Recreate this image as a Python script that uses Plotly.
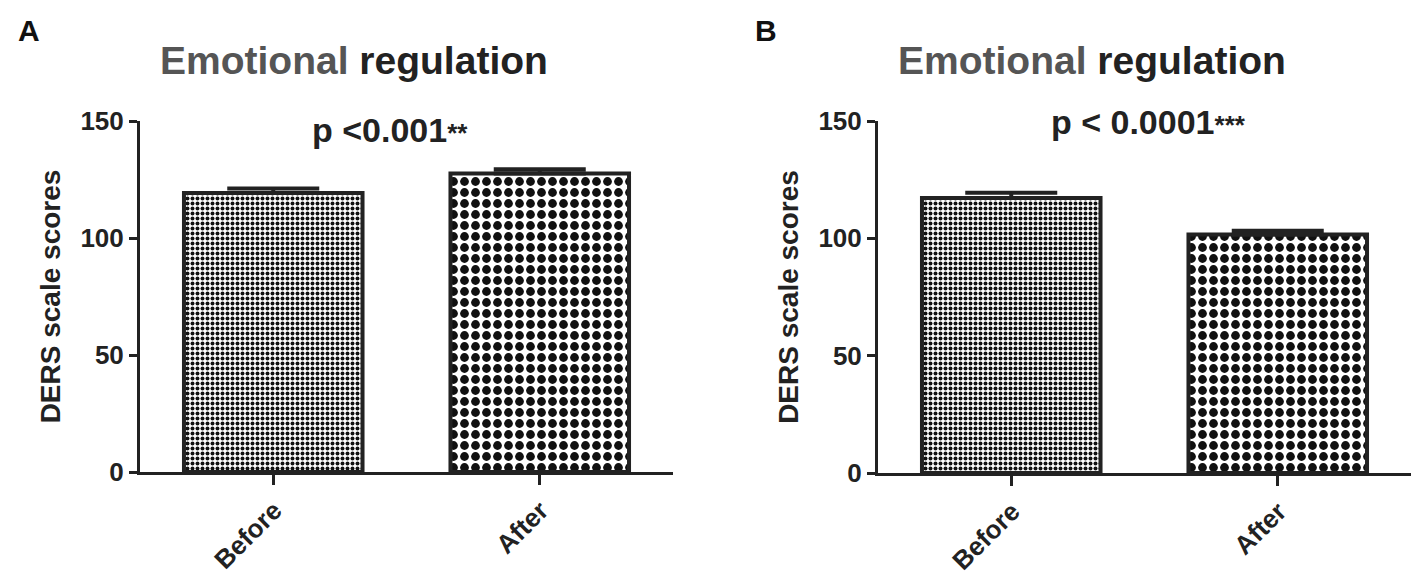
import plotly.graph_objects as go

categories = ["Before", "After"]
panel_a_means = [119.2, 127.6]
panel_a_err = [2.0, 1.8]
panel_b_means = [117.2, 101.6]
panel_b_err = [2.2, 1.6]
y_ticks = [0, 50, 100, 150]
panel_letters = ["A", "B"]
panel_titles = ["Emotional regulation", "Emotional regulation"]
p_texts = ["p <0.001", "p < 0.0001"]
p_stars = ["**", "***"]
y_title = "DERS scale scores"

FONT = "Liberation Sans, Arial, sans-serif"
INK = "#222222"

# The page body has an 8px margin; the figure is sized and placed to compensate.
OFF = 8
W, H = 1421 - OFF, 575 - OFF


def px(x):
    return (x - OFF) / W


def py(y):
    return 1 - (y - OFF) / H


fig = go.Figure()

patterns = [dict(shape=".", size=5, solidity=0.5, fgcolor="#111111", bgcolor="white", fgopacity=1),
            dict(shape=".", size=11, solidity=0.5, fgcolor="#111111", bgcolor="white", fgopacity=1)]

for idx, (means, errs) in enumerate([(panel_a_means, panel_a_err), (panel_b_means, panel_b_err)]):
    xa = "x" if idx == 0 else "x2"
    ya = "y" if idx == 0 else "y2"
    for j, cat in enumerate(categories):
        fig.add_trace(go.Bar(
            x=[cat], y=[means[j]], xaxis=xa, yaxis=ya, width=0.67,
            marker=dict(color="white", line=dict(color=INK, width=4), pattern=patterns[j]),
            error_y=dict(type="data", array=[errs[j]], arrayminus=[0], symmetric=False,
                         color=INK, thickness=4, width=46),
            showlegend=False, hoverinfo="skip",
        ))

axis_common_x = dict(type="category", range=[-0.5, 1.5], showline=True, linecolor=INK, linewidth=3,
                     ticks="outside", ticklen=10, tickwidth=3, tickcolor=INK, tickangle=-45,
                     ticklabelstandoff=0, ticklabelshift=1,
                     tickfont=dict(family=FONT, size=26, color=INK), showgrid=False, zeroline=False,
                     categoryorder="array", categoryarray=categories, automargin=False)
axis_common_y = dict(range=[0, 150], tickvals=y_ticks, showline=True, linecolor=INK, linewidth=3,
                     ticks="outside", ticklen=8, tickwidth=3, tickcolor=INK, automargin=False,
                     tickfont=dict(family=FONT, size=26, color=INK), showgrid=False, zeroline=False,
                     title=dict(text="<b>" + y_title + "</b>", font=dict(family=FONT, size=28, color=INK), standoff=12))

tick_bold = dict(ticktext=["<b>%s</b>" % c for c in categories], tickvals=categories)
ytick_bold = dict(ticktext=["<b>%d</b>" % v for v in y_ticks])

fig.update_layout(
    width=W, height=H,
    margin=dict(l=0, r=0, t=0, b=0, autoexpand=False),
    paper_bgcolor="white", plot_bgcolor="white",
    xaxis=dict(domain=[px(140), px(673)], anchor="y", **axis_common_x, **tick_bold),
    yaxis=dict(domain=[py(472), py(121)], anchor="x", **axis_common_y, **ytick_bold),
    xaxis2=dict(domain=[px(878), px(1411)], anchor="y2", **axis_common_x, **tick_bold),
    yaxis2=dict(domain=[py(473), py(121)], anchor="x2", **axis_common_y, **ytick_bold),
)

letter_x = [29, 766]
title_x = [354, 1092]
p_x = [390, 1148]
p_y = [130, 122]
for i in range(2):
    fig.add_annotation(xref="paper", yref="paper", x=px(letter_x[i]), y=py(30),
                       xanchor="center", yanchor="middle",
                       text="<b>%s</b>" % panel_letters[i], showarrow=False,
                       font=dict(family=FONT, size=30, color="#111111"))
    w1, w2 = panel_titles[i].split(" ", 1)
    fig.add_annotation(xref="paper", yref="paper", x=px(title_x[i]), y=py(60),
                       xanchor="center", yanchor="middle",
                       text="<b><span style='color:#555555'>%s</span> %s</b>" % (w1, w2), showarrow=False,
                       font=dict(family=FONT, size=39, color=INK))
    fig.add_annotation(xref="paper", yref="paper", x=px(p_x[i]), y=py(p_y[i]),
                       xanchor="center", yanchor="middle",
                       text="<b>%s<span style='font-size:26px'>%s</span></b>" % (p_texts[i], p_stars[i]),
                       showarrow=False, font=dict(family=FONT, size=34, color=INK))

fig.write_html("out.html")
